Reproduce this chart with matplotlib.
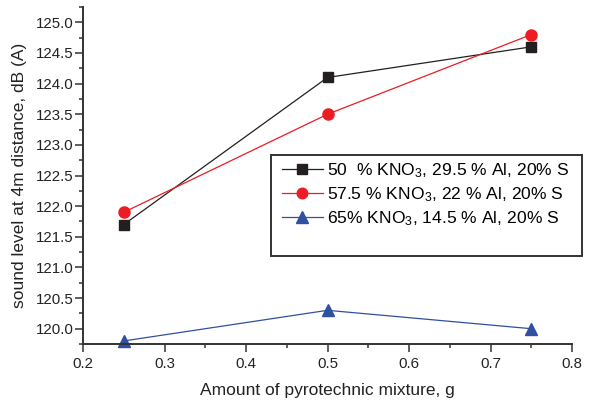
import matplotlib
matplotlib.use("Agg")
import matplotlib.pyplot as plt
from matplotlib.patches import Rectangle
from matplotlib.ticker import MultipleLocator

plt.rcParams['font.family'] = ['Liberation Sans', 'DejaVu Sans']
plt.rcParams['mathtext.fontset'] = 'custom'
plt.rcParams['mathtext.rm'] = 'Liberation Sans'
plt.rcParams['mathtext.it'] = 'Liberation Sans'

x = [0.25, 0.5, 0.75]
s50 = [121.7, 124.1, 124.6]
s575 = [121.9, 123.5, 124.8]
s65 = [119.8, 120.3, 120.0]
labels = ["50  % KNO$_3$, 29.5 % Al, 20% S",
          "57.5 % KNO$_3$, 22 % Al, 20% S",
          "65% KNO$_3$, 14.5 % Al, 20% S"]

fig = plt.figure(figsize=(5.9, 4.01), dpi=100)
ax = fig.add_axes([0.1407, 0.1421, 0.8288, 0.8404])

ax.plot(x, s50, color='#231f20', marker='s', markersize=7, linewidth=0.9, label=labels[0], clip_on=False)
ax.plot(x, s575, color='#ed1c24', marker='o', markersize=8, linewidth=0.9, label=labels[1], clip_on=False)
ax.plot(x, s65, color='#3050a0', marker='^', markersize=9, linewidth=0.9, label=labels[2], clip_on=False)

ax.set_xlim(0.2, 0.8)
ax.set_ylim(119.75, 125.25)
ax.xaxis.set_major_locator(MultipleLocator(0.1))
ax.xaxis.set_minor_locator(MultipleLocator(0.05))
ax.yaxis.set_major_locator(MultipleLocator(0.5))
ax.yaxis.set_minor_locator(MultipleLocator(0.25))
ax.set_xticklabels([f"{v:.1f}" for v in ax.get_xticks()])
ax.set_yticklabels([f"{v:.1f}" for v in ax.get_yticks()])

for side in ['top', 'right']:
    ax.spines[side].set_visible(False)
for side in ['left', 'bottom']:
    ax.spines[side].set_linewidth(1.4)
    ax.spines[side].set_color('#333333')
ax.tick_params(which='major', length=5.5, width=1.1, color='#333333', labelsize=10.8, labelcolor='#222222')
ax.tick_params(axis='y', which='major', pad=1.5)
ax.tick_params(which='minor', length=3, width=1.1, color='#333333')

ax.set_xlabel("Amount of pyrotechnic mixture, g", fontsize=12.5, color='#222222', labelpad=9)
ax.set_ylabel("sound level at 4m distance, dB (A)", fontsize=12.5, color='#222222', labelpad=6)

# legend frame drawn separately (the original box has extra room at the bottom)
fig.patches.append(Rectangle((271 / 590, 1 - 256 / 401), 311 / 590, 101 / 401,
                             transform=fig.transFigure, facecolor='white',
                             edgecolor='#333333', linewidth=1.4, zorder=3))
leg = fig.legend(loc='upper left', bbox_to_anchor=(270 / 590, 1 - 149 / 401),
                 frameon=False, fontsize=12.6, handlelength=2.3, handletextpad=0.25,
                 labelspacing=0.3, borderpad=0.2, markerscale=0.95)
leg.set_zorder(4)

fig.savefig("out.png", dpi=100)
